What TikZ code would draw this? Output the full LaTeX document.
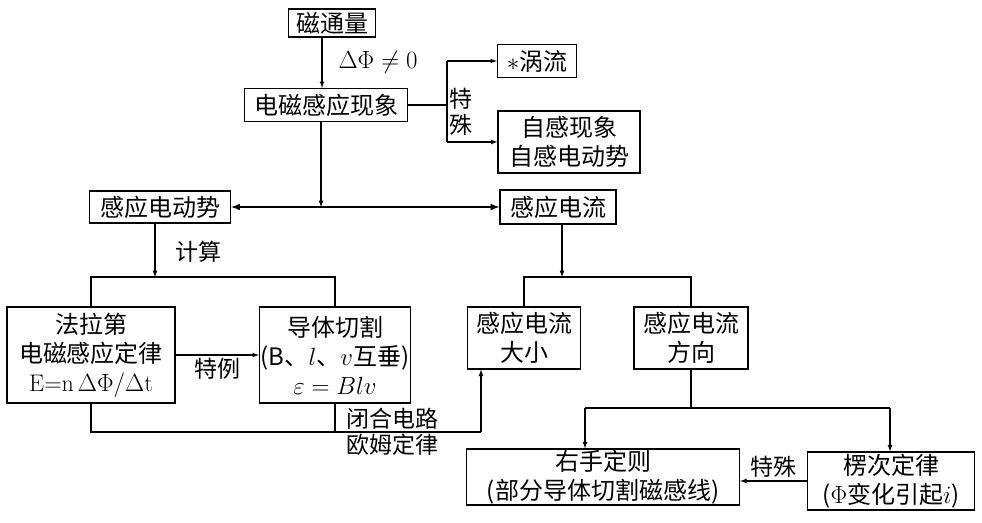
\documentclass[tikz,border=0pt]{standalone}
\usepackage{fontspec}
\newfontfamily\cjk{Noto Sans CJK SC}
\usetikzlibrary{arrows}
\begin{document}
\begin{tikzpicture}[x=1pt,y=-1pt]
\tikzset{box/.style={draw,line width=1.2pt,align=center,inner sep=1pt,font=\cjk\fontsize{24}{29}\selectfont},
  lbl/.style={align=center,inner sep=1pt,font=\cjk\fontsize{23}{26}\selectfont},
  link/.style={line width=1.2pt},
  arr/.style={link,-latex}}
\useasboundingbox (0,0) rectangle (982,522);
\node[box,minimum width=87pt,minimum height=28pt] (flux) at (332,23) {磁通量};
\node[box,minimum width=163pt,minimum height=33pt] (emi) at (326,105) {电磁感应现象};
\node[box,minimum width=79pt,minimum height=33pt] (eddy) at (537,61) {$*$涡流};
\node[box,minimum width=142pt,minimum height=62pt] (self) at (569,142) {自感现象\\自感电动势};
\node[box,minimum width=141pt,minimum height=32pt] (emf) at (160,207) {感应电动势};
\node[box,minimum width=116pt,minimum height=34pt] (cur) at (558,207) {感应电流};
\node[box,minimum width=168pt,minimum height=96pt] (faraday) at (91,355) {法拉第\\电磁感应定律\\{\rmfamily E=n\,$\Delta\Phi/\Delta$t}};
\node[box,minimum width=151pt,minimum height=96pt] (cut) at (335,355) {导体切割\\(B、$l$、$v$互垂)\\$\varepsilon=Blv$};
\node[box,minimum width=113pt,minimum height=62pt] (size) at (524,338) {感应电流\\大小};
\node[box,minimum width=114pt,minimum height=62pt] (dir) at (691,338) {感应电流\\方向};
\node[box,minimum width=273pt,minimum height=56pt] (right) at (603,477) {右手定则\\(部分导体切割磁感线)};
\node[box,minimum width=167pt,minimum height=58pt] (lenz) at (891,481) {楞次定律\\($\Phi$变化引起$i$)};

\node[lbl,font=\fontsize{26}{30}\selectfont] (dphi) at (378,62) {$\Delta\Phi\neq0$};
\node[lbl] (spec1) at (461,112) {特\\殊};
\node[lbl] (calc) at (198,252) {计算};
\node[lbl] (ohm) at (392,432) {闭合电路\\欧姆定律};

\coordinate (f1) at (322,0);
\coordinate (sp) at (447,0);
\coordinate (m1) at (321,0);
\coordinate (h1) at (0,277);
\coordinate (h2) at (0,432);
\coordinate (u1) at (481,432);
\coordinate (h3) at (0,277);
\coordinate (r1) at (585,408);
\coordinate (r2) at (890,408);

\draw[arr] (flux.south -| f1) -- (emi.north -| f1);
\draw[link] (emi.east) -- (emi.east -| sp);
\draw[link] (sp |- eddy.west) -- (sp |- self.west);
\draw[arr] (sp |- eddy.west) -- (eddy.west);
\draw[arr] (sp |- self.west) -- (self.west);
\draw[arr] (emi.south -| m1) -- (emf.east -| m1);
\draw[link,line width=2pt,latex-latex] (emf.east) -- (cur.west);

\draw[arr] ([xshift=-5pt]emf.south) -- ([xshift=-5pt]emf.south |- h1);
\draw[link] (faraday.north) -- (faraday.north |- h1) -- (cut.north |- h1) -- (cut.north);
\draw[arr] (faraday.east) -- node[lbl,below=2pt] (spec2) {特例} (cut.west);
\draw[link] (faraday.south) -- (faraday.south |- h2) -- (u1);
\draw[link] (cut.south) -- (cut.south |- h2);
\draw[arr] (u1) -- (u1 |- size.south);

\draw[arr] ([xshift=4pt]cur.south) -- ([xshift=4pt]cur.south |- h3);
\draw[link] (size.north) -- (size.north |- h3) -- (dir.north |- h3) -- (dir.north);
\draw[link] (dir.south) -- (dir.south |- r1);
\draw[link] (r1) -- (r2);
\draw[arr] (r1) -- (r1 |- right.north);
\draw[arr] (r2) -- (r2 |- lenz.north);
\draw[arr] (lenz.west) -- node[lbl,above=2pt] (spec3) {特殊} (lenz.west -| right.east);
\end{tikzpicture}
\end{document}
